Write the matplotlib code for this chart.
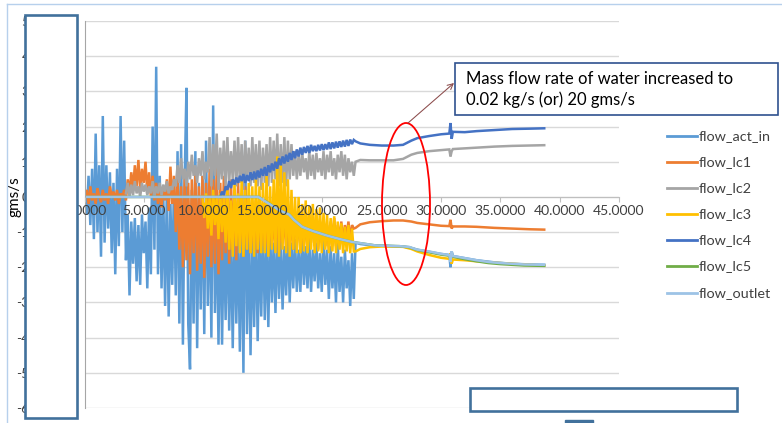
import numpy as np
import matplotlib
matplotlib.use('Agg')
import matplotlib.pyplot as plt
from matplotlib.patches import Rectangle, Ellipse

plt.rcParams['font.family'] = ['Lato', 'DejaVu Sans']
plt.rcParams['axes.unicode_minus'] = False

# ---------------- data ----------------
series_names = ['flow_act_in', 'flow_lc1', 'flow_lc2', 'flow_lc3',
                'flow_lc4', 'flow_lc5', 'flow_outlet']
series_colors = ['#5B9BD5', '#ED7D31', '#A5A5A5', '#FFC000',
                 '#4472C4', '#70AD47', '#9DC3E6']

x_ticks = [0, 5, 10, 15, 20, 25, 30, 35, 40, 45]
y_ticks = [5, 4, 3, 2, 1, 0, -1, -2, -3, -4, -5, -6]

# noisy (oscillating) phase: samples every 0.15 s from a start time
sample_step = 0.15

act_in_start = 0.0
act_in_noisy = [
    0.1, -0.5, 0.6, -0.8, 0.8, -1.2, 1.8, -1.0, 0.9, -1.7,
    2.3, -1.3, 0.9, -0.9, 0.7, -1.6, 0.4, -2.2, 0.8, -1.4,
    2.3, -1.0, 1.6, -1.8, -0.5, -2.8, -0.7, -1.9, -0.6, -2.4,
    -0.8, -2.5, -0.5, -1.6, -0.7, -2.6, -0.3, -2.2, 2.0, -1.5,
    3.7, -2.2, 0.6, -2.6, 0.0, -3.1, 0.3, -3.4, -0.2, -2.5,
    0.4, -2.8, 1.3, -3.6, 1.5, -4.2, 0.5, 3.1, -3.6, -4.9,
    0.2, -3.6, 1.3, -4.3, 0.4, -3.2, 0.6, -3.9, 1.6, -3.1,
    0.3, -4.0, 2.6, -3.3, -0.5, -4.2, -0.3, -4.2, -0.8, -3.5,
    -0.6, -3.8, -1.0, -4.3, -0.7, -3.6, -0.9, -4.4, -0.5, -5.0,
    1.6, -3.9, -0.8, -4.5, -1.0, -3.7, -0.6, -4.1, -1.1, -3.4,
    -0.8, -3.5, -1.2, -3.7, -0.9, -3.0, -1.3, -3.3, -1.0, -2.9,
    -1.1, -3.2, -1.4, -2.8, -1.0, -3.0, -1.3, -2.6, -1.2, -2.7,
    -1.5, -2.7, -1.1, -2.5, -1.4, -2.6, -1.2, -2.7, -1.5, -2.4,
    -1.3, -2.6, -1.6, -2.7, -1.2, -2.5, -1.5, -2.9, -1.4, -2.6,
    -1.6, -3.0, -1.3, -2.7, -1.7, -3.0, -1.5, -2.6, -1.8, -3.1,
    -1.6, -2.9]

lc1_start = 0.0
lc1_noisy = [
    0.0, 0.2, -0.2, 0.3, -0.1, 0.1, -0.2, 0.25, 0.0, -0.15,
    0.2, -0.1, 0.1, -0.2, 0.3, 0.0, 0.15, -0.1, 0.2, -0.2,
    0.1, 0.0, 0.2, -0.1, 0.5, 0.1, 0.7, 0.2, 0.9, 0.3,
    1.05, 0.2, 0.8, 0.4, 1.0, 0.1, 0.7, 0.0, 0.6, -0.1,
    0.4, -0.2, 0.2, -0.3, 0.3, -0.1, 0.5, -0.4, 0.86, -0.2,
    0.6, -1.0, 0.5, -1.5, 0.3, -2.0, 0.6, -1.8, 0.4, -2.2,
    0.5, -1.6, 0.7, -2.1, 0.3, -1.9, 0.6, -2.3, 0.4, -1.7,
    0.8, -2.0, 0.5, -1.9, 0.9, -2.2, 0.4, -1.8, 0.6, -1.6,
    0.3, -1.9, 0.5, -1.5, 0.2, -1.8, 0.4, -1.4, 0.1, -1.7,
    0.3, -1.5, 0.0, -1.6, -0.2, -1.5, -0.1, -1.6, -0.3, -1.4,
    -0.2, -1.5, -0.4, -1.6, -0.3, -1.4, -0.5, -1.5, -0.2, -1.6,
    -0.4, -1.3, -0.5, -1.5, -0.3, -1.4, -0.6, -1.5, -0.4, -1.3,
    -0.5, -1.6, -0.6, -1.4, -0.5, -1.5, -0.7, -1.3, -0.5, -1.4,
    -0.6, -1.5, -0.7, -1.3, -0.6, -1.4, -0.8, -1.5, -0.7, -1.3,
    -0.6, -1.4, -0.8, -1.2, -0.7, -1.3, -0.8, -1.1, -0.7, -1.2,
    -0.8, -0.9]

lc2_start = 3.45
lc2_noisy = [
    0.1, 0.4, 0.0, 0.35, 0.05, 0.45, 0.1,
    0.3, 0.0, 0.4, 0.15, 0.35, 0.05, 0.3, 0.1, 0.45, 0.0,
    0.3, 0.1, 0.4, 0.05, 0.35, 0.15, 0.45, 0.1, 0.3, 0.2,
    0.5, 0.3, 0.9, 0.4, 1.1, 0.5, 0.8, 0.3, 1.0, 0.5,
    1.2, 0.6, 0.9, 0.4, 1.1, 0.6, 1.3, 0.5, 1.0, 0.7,
    1.7, 0.3, 1.5, 0.6, 1.8, 0.2, 1.4, 0.5, 1.6, 0.3,
    1.7, 0.4, 1.3, 0.5, 1.6, 0.3, 1.7, 0.4, 1.5, 0.2,
    1.6, 0.5, 1.4, 0.3, 1.7, 0.4, 1.5, 0.3, 1.6, 0.2,
    1.4, 0.4, 1.5, 0.3, 1.7, 0.4, 1.6, 0.5, 1.8, 0.3,
    1.5, 0.4, 1.7, 0.3, 1.6, 0.5, 1.5, 0.6, 1.3, 0.5,
    1.2, 0.6, 1.3, 0.7, 1.1, 0.5, 1.3, 0.6, 1.2, 0.5,
    1.25, 0.7, 1.1, 0.6, 1.3, 0.5, 1.2, 0.7, 1.3, 0.6,
    1.1, 0.5, 1.2, 0.7, 1.3, 0.6, 1.2, 0.5, 1.1, 0.7,
    1.0, 0.6]

lc3_start = 9.9
lc3_noisy = [
    0.0, -0.6, 0.1, -0.9,
    0.0, -1.1, 0.2, -0.8, 0.0, -1.2, 0.1, -1.0, 0.0, -1.3,
    0.2, -1.5, -0.1, -1.7, 0.4, -1.4, 0.1, -1.6, 0.5, -1.7,
    0.2, -1.5, 0.4, -1.6, 0.3, -1.7, 0.5, -1.5, 0.3, -1.6,
    0.4, -1.6, 0.6, -1.7, 0.3, -1.5, 0.5, -1.6, 1.15, -1.7,
    0.9, -1.5, 0.7, -1.6, 0.5, -1.7, 0.2, -1.5, 0.0, -1.6,
    0.0, -1.6, -0.2, -1.55, -0.1, -1.6, -0.25, -1.5, -0.2, -1.6,
    -0.35, -1.55, -0.3, -1.6, -0.45, -1.5, -0.5, -1.6, -0.6, -1.55,
    -0.55, -1.6, -0.7, -1.5, -0.75, -1.6, -0.85, -1.55, -0.8, -1.6,
    -0.9, -1.55]

lc4_start = 11.4
lc4_noisy = [
    0.0, 0.15, 0.05, 0.3,
    0.2, 0.45, 0.25, 0.5, 0.35, 0.55, 0.4, 0.6, 0.45, 0.65,
    0.4, 0.62, 0.45, 0.7, 0.48, 0.72, 0.5, 0.75, 0.55, 0.8,
    0.6, 0.85, 0.6, 0.9, 0.7, 0.95, 0.75, 1.0, 0.8, 1.1,
    0.9, 1.15, 0.95, 1.2, 1.0, 1.25, 1.05, 1.3, 1.1, 1.35,
    1.15, 1.4, 1.2, 1.42, 1.25, 1.45, 1.25, 1.48, 1.3, 1.45,
    1.3, 1.48, 1.32, 1.5, 1.33, 1.5, 1.35, 1.55, 1.36, 1.55,
    1.38, 1.57, 1.4, 1.58, 1.42, 1.6, 1.43, 1.62, 1.45, 1.63,
    1.5, 1.62]

# settled phase after the flow-rate change
tail_t = [22.8, 23.2, 24.0, 25.0, 26.0, 26.8, 27.5, 28.0, 29.0, 30.0,
          30.7, 30.8, 30.9, 31.0, 32.0, 33.0, 34.5, 36.0, 37.5, 38.7]
act_in_tail = [-1.3, -1.34, -1.37, -1.39, -1.4, -1.41, -1.45, -1.5, -1.56, -1.62,
               -1.65, -2.0, -1.55, -1.68, -1.74, -1.8, -1.86, -1.9, -1.92, -1.93]
lc1_tail = [-0.88, -0.78, -0.72, -0.69, -0.67, -0.67, -0.70, -0.74, -0.78, -0.82,
            -0.83, -0.65, -0.9, -0.84, -0.84, -0.85, -0.88, -0.9, -0.92, -0.93]
lc2_tail = [1.0, 1.05, 1.04, 1.04, 1.04, 1.08, 1.2, 1.25, 1.3, 1.33,
            1.35, 1.15, 1.3, 1.36, 1.38, 1.4, 1.43, 1.45, 1.46, 1.47]
lc3_tail = [-1.55, -1.48, -1.43, -1.41, -1.41, -1.42, -1.48, -1.55, -1.65, -1.73,
            -1.76, -1.6, -1.9, -1.78, -1.8, -1.83, -1.87, -1.9, -1.93, -1.95]
lc4_tail = [1.58, 1.52, 1.48, 1.46, 1.46, 1.48, 1.6, 1.67, 1.73, 1.78,
            1.8, 2.1, 1.65, 1.85, 1.84, 1.87, 1.9, 1.93, 1.94, 1.95]

outlet_t = [0.0, 14.6, 15.3, 16.0, 16.5, 17.2, 17.6, 18.3, 19.2, 20.4,
            21.5, 22.5, 23.5, 24.5, 26.5, 27.3, 28.0, 29.0, 30.0, 30.7,
            30.8, 30.9, 31.0, 32.0, 33.0, 34.0, 35.0, 36.0, 37.0, 38.7]
outlet_v = [0.0, 0.0, -0.15, -0.3, -0.4, -0.5, -0.65, -0.85, -0.97, -1.1,
            -1.2, -1.28, -1.33, -1.38, -1.4, -1.42, -1.5, -1.55, -1.62, -1.65,
            -1.85, -1.55, -1.68, -1.74, -1.8, -1.85, -1.88, -1.9, -1.92, -1.93]
lc5_v = [0.0, 0.0, -0.14, -0.3, -0.4, -0.5, -0.65, -0.85, -0.97, -1.1,
         -1.2, -1.28, -1.33, -1.38, -1.4, -1.43, -1.51, -1.57, -1.64, -1.67,
         -1.8, -1.6, -1.7, -1.77, -1.83, -1.88, -1.91, -1.93, -1.95, -1.96]


def build(start, noisy, tail_times, tail_vals):
    t = start + sample_step * np.arange(len(noisy))
    return (np.concatenate([t, tail_times]),
            np.concatenate([noisy, tail_vals]))


series = [
    build(act_in_start, act_in_noisy, tail_t, act_in_tail),
    build(lc1_start, lc1_noisy, tail_t, lc1_tail),
    build(lc2_start, lc2_noisy, tail_t, lc2_tail),
    build(lc3_start, lc3_noisy, tail_t, lc3_tail),
    build(lc4_start, lc4_noisy, tail_t, lc4_tail),
    (np.array(outlet_t), np.array(lc5_v)),
    (np.array(outlet_t), np.array(outlet_v)),
]

# ---------------- figure ----------------
W, H = 782, 423
fig = plt.figure(figsize=(W / 100, H / 100), dpi=100)
fig.patch.set_facecolor('white')
ax = fig.add_axes([85 / W, 1 - 408 / H, (619 - 85) / W, (408 - 21) / H])
ax.set_xlim(0, 45)
ax.set_ylim(-6, 5)

txt_col = '#404040'
for (t, v), c in zip(series, series_colors):
    ax.plot(t, v, color=c, lw=1.8, zorder=2, solid_joinstyle='miter')

ax.set_yticks(y_ticks)
ax.set_yticklabels([str(v) for v in y_ticks])
ax.set_xticks(x_ticks)
ax.set_xticklabels([f"{v:.4f}" for v in x_ticks])
ax.yaxis.grid(True, color='#D9D9D9', lw=1.0)
ax.set_axisbelow(True)
ax.xaxis.set_zorder(4)
for s in ['top', 'right']:
    ax.spines[s].set_visible(False)
ax.spines['bottom'].set_position(('data', 0))
ax.spines['bottom'].set_color('#BFBFBF')
ax.spines['bottom'].set_zorder(1.5)
ax.spines['left'].set_color('#A6A6A6')
ax.tick_params(axis='x', direction='out', length=3.4, color='#BFBFBF',
               labelsize=10, labelcolor=txt_col, pad=2.5)
ax.tick_params(axis='y', length=0, pad=40, labelsize=10, labelcolor=txt_col)

# ---------------- overlay decorations ----------------
ov = fig.add_axes([0, 0, 1, 1], zorder=5)
ov.set_xlim(0, W)
ov.set_ylim(H, 0)
ov.axis('off')
ov.patch.set_alpha(0)

ov.plot([7, 7], [4, H], color='#B7D0EC', lw=1)
ov.plot([7, W], [4, 4], color='#B7D0EC', lw=1)

ov.add_patch(Rectangle((25, 15.5), 52, 402.5, facecolor='white',
                       edgecolor='#41719C', lw=1.9))
ov.add_patch(Rectangle((470, 388.5), 267, 22.5, facecolor='white',
                       edgecolor='#41719C', lw=1.9))
ov.add_patch(Rectangle((565, 420.5), 28, 6, facecolor='#41719C',
                       edgecolor='#41719C', lw=1))

fig.text(15 / W, 1 - 197 / H, 'gms/s', rotation=90, ha='center', va='center',
         fontsize=11, color='black')

ov.add_patch(Rectangle((455, 63), 323, 52, facecolor='white',
                       edgecolor='#2F528F', lw=1.2))
ov.text(466, 79, 'Mass flow rate of water increased to', ha='left',
        va='center', fontsize=12, color='black')
ov.text(466, 100, '0.02 kg/s (or) 20 gms/s', ha='left', va='center',
        fontsize=12, color='black')
ov.annotate('', xy=(454, 83), xytext=(408, 123),
            arrowprops=dict(arrowstyle='->', color='#8B4B4B', lw=0.75,
                            shrinkA=0, shrinkB=0))
ov.add_patch(Ellipse((406, 204), 48, 162, fill=False, edgecolor='#FF0000',
                     lw=1.3))

for k, (name, c) in enumerate(zip(series_names, series_colors)):
    y = 136 + 26.1 * k
    ov.plot([667, 697], [y, y], color=c, lw=2)
    ov.text(699, y, name, ha='left', va='center', fontsize=10.4, color=txt_col)

fig.savefig('out.png', dpi=100)
